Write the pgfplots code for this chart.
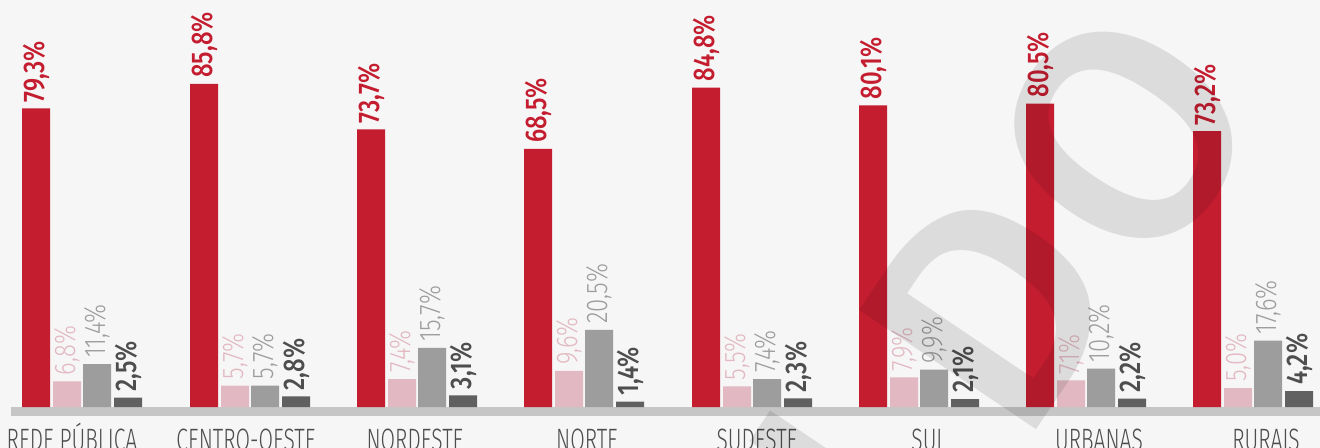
\documentclass[border=0pt]{standalone}
\usepackage{pgfplots}
\pgfplotsset{compat=1.18}
\usepackage{fontspec}
\setmainfont{Fira Sans}
\newfontfamily\catfont{Fira Sans Light}[FakeStretch=0.68]
\newfontfamily\valfont{Fira Sans Medium}[FakeStretch=0.8]
\newfontfamily\vallight{Fira Sans Light}[FakeStretch=0.8]
\newfontfamily\wmfont{Fira Sans Medium}

\definecolor{cred}{HTML}{C41D30}
\definecolor{cpink}{HTML}{E2B9C2}
\definecolor{cgray}{HTML}{9D9D9D}
\definecolor{cdark}{HTML}{606060}
\definecolor{cdarktxt}{HTML}{4E4E4E}
\definecolor{ccat}{HTML}{4D4D4D}
\definecolor{cband}{HTML}{C6C6C6}
\definecolor{cbg}{HTML}{F6F6F6}

\begin{document}
\begin{tikzpicture}
\fill[cbg] (0,0) rectangle (1320bp,448bp);
\begin{axis}[
  at={(0,0)}, anchor=south west,
  scale only axis, width=1320bp, height=448bp,
  xmin=0, xmax=1320, ymin=-10.88, ymax=108.04,
  axis line style={draw=none},
  major tick length=0pt,
  ytick=\empty,
  xtick={72,246,415,587,757,929,1099,1266},
  xticklabels={REDE PÚBLICA,CENTRO-OESTE,NORDESTE,NORTE,SUDESTE,SUL,URBANAS,RURAIS},
  xticklabel style={anchor=base, yshift=-2bp, font=\catfont\fontsize{31}{32}\selectfont, text=ccat},
  /pgf/number format/assume math mode=true,
  ybar, bar width=28, bar shift=0pt,
  nodes near coords={\pgfmathprintnumber[fixed,fixed zerofill,precision=1,use comma]{\pgfplotspointmeta}\%},
  every node near coord/.append style={rotate=90, anchor=west, inner xsep=6bp, inner ysep=0pt},
]
\fill[cband] (axis cs:11,0) rectangle (axis cs:1320,-2.39);

% Brasil / regiões / localização
\addplot[draw=none, fill=cred,
  every node near coord/.append style={text=cred, font=\valfont\fontsize{30}{31}\selectfont}]
  coordinates {(36,79.3) (204,85.8) (371,73.7) (538,68.5) (706,84.8) (873,80.1) (1040,80.5) (1207,73.2)};
\addplot[draw=none, fill=cpink,
  every node near coord/.append style={text=cpink, font=\vallight\fontsize{30}{31}\selectfont}]
  coordinates {(67,6.8) (235,5.7) (402,7.4) (569,9.6) (737,5.5) (904,7.9) (1071,7.1) (1238,5.0)};
\addplot[draw=none, fill=cgray,
  every node near coord/.append style={text=cgray, font=\vallight\fontsize{30}{31}\selectfont}]
  coordinates {(97,11.4) (265,5.7) (432,15.7) (599,20.5) (767,7.4) (934,9.9) (1101,10.2) (1268,17.6)};
\addplot[draw=none, fill=cdark,
  every node near coord/.append style={text=cdarktxt, font=\valfont\fontsize{30}{31}\selectfont}]
  coordinates {(128,2.5) (296,2.8) (463,3.1) (630,1.4) (798,2.3) (965,2.1) (1132,2.2) (1299,4.2)};
\end{axis}

% marca d'agua
\begin{scope}[x=1bp, y=1bp, every node/.style={opacity=0.1, text=black, rotate=56, font=\wmfont\fontsize{310}{310}\selectfont}]
  \node at (815,-88) {N};
  \node at (990,140) {D};
  \node at (1124,313) {O};
\end{scope}

\pgfresetboundingbox
\path[use as bounding box] (0,0) rectangle (1320bp,448bp);
\end{tikzpicture}
\end{document}
